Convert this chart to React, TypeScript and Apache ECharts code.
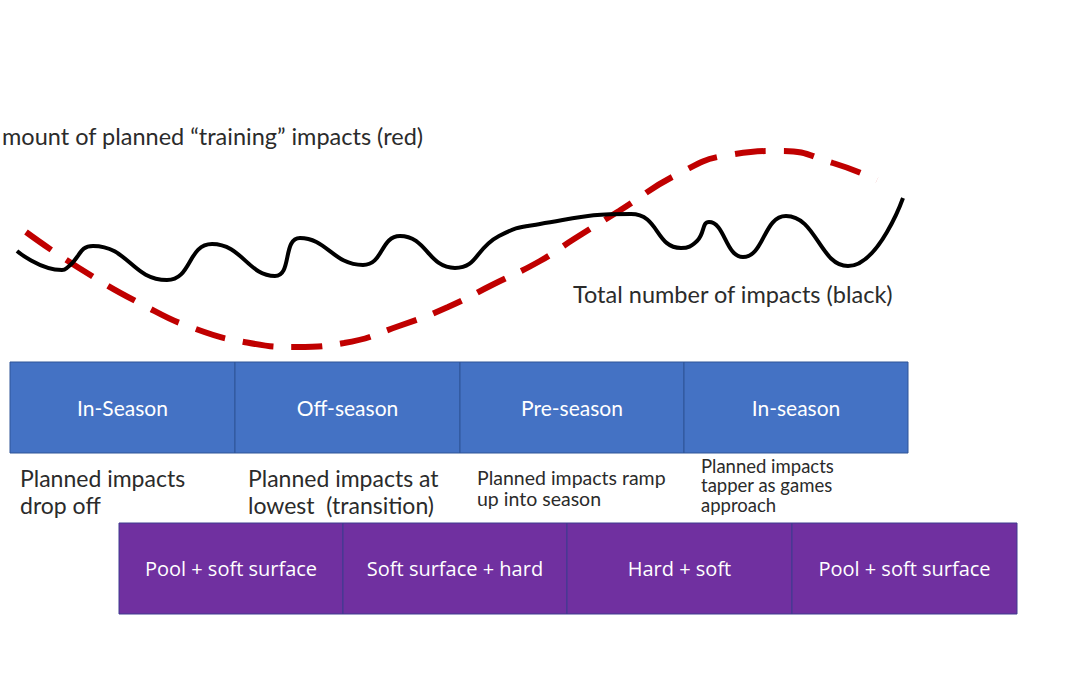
import React, { useEffect, useRef } from "react";
import * as echarts from "echarts";

// Timeline in weeks (x) and relative impact level (y)
const phaseNames = ["In-Season", "Off-season", "Pre-season", "In-season"];
const phaseBounds = [1.0, 23.5, 46.0, 68.4, 90.8];
const surfaceNames = ["Pool + soft surface", "Soft surface + hard", "Hard + soft", "Pool + soft surface"];
const surfaceBounds = [11.9, 34.3, 56.7, 79.2, 101.7];

const totalImpacts: [number, number][] = [
  [1.7, 42.4], [6.2, 40.5], [6.8, 40.8], [9.3, 42.9], [16.7, 39.5], [21.2, 43.1],
  [27.5, 39.9], [30.0, 43.7], [36.3, 41.0], [40.0, 43.9], [45.5, 40.7], [49.9, 43.9],
  [54.0, 45.1], [63.1, 46.1], [68.1, 42.7], [69.7, 43.4], [70.9, 45.3], [74.3, 41.8],
  [78.6, 45.9], [84.8, 40.9], [90.3, 47.7],
];

const plannedImpacts: [number, number][] = [
  [2.6, 44.3], [7.9, 40.7], [14.5, 36.9], [19.3, 34.7], [24.4, 33.3], [29.6, 32.8],
  [34.4, 33.2], [39.9, 34.9], [44.8, 36.8], [49.2, 39.0], [54.0, 41.4], [57.4, 43.6],
  [61.9, 46.4], [67.8, 50.1], [72.9, 52.0], [78.1, 52.4], [83.3, 51.2], [87.7, 49.5],
];

const phaseNotes = [
  "Planned impacts\ndrop off",
  "Planned impacts at\nlowest  (transition)",
  "Planned impacts ramp\nup into season",
  "Planned impacts\ntapper as games\napproach",
];

const redLabel = "mount of planned \u201ctraining\u201d impacts (red)";
const blackLabel = "Total number of impacts (black)";

const FONT = "Lato, 'Open Sans', sans-serif";
const CELL2_FONT = "'Liberation Sans Narrow', 'Open Sans', sans-serif";
const TEXT_COLOR = "#2b2b2b";

function cellSeries(
  names: string[],
  bounds: number[],
  yTop: number,
  yBottom: number,
  fill: string,
  stroke: string,
  fontSize: number,
  fontFamily: string
) {
  return {
    type: "custom",
    silent: true,
    data: names.map((_, i) => [bounds[i], bounds[i + 1], i]),
    encode: { x: [0, 1], y: 2 },
    renderItem: (params: any, api: any) => {
      const s = api.value(0);
      const e = api.value(1);
      const i = api.value(2);
      const p0 = api.coord([s, yTop]);
      const p1 = api.coord([e, yBottom]);
      return {
        type: "group",
        children: [
          {
            type: "rect",
            shape: { x: p0[0], y: p0[1], width: p1[0] - p0[0], height: p1[1] - p0[1] },
            style: { fill, stroke, lineWidth: 1 },
          },
          {
            type: "text",
            style: {
              text: names[i],
              x: (p0[0] + p1[0]) / 2,
              y: (p0[1] + p1[1]) / 2,
              align: "center",
              verticalAlign: "middle",
              fill: "#ffffff",
              fontSize,
              fontFamily,
            },
          },
        ],
      };
    },
  };
}

export default function App() {
  const ref = useRef<HTMLDivElement>(null);
  useEffect(() => {
    document.body.style.margin = "0";
    if (!ref.current) return;
    const chart = echarts.init(ref.current, undefined, { renderer: "svg" });
    chart.setOption({
      animation: false,
      backgroundColor: "#ffffff",
      grid: { left: 0, right: 0, top: 0, bottom: 0, containLabel: false },
      xAxis: { type: "value", min: 0, max: 108, show: false },
      yAxis: { type: "value", min: 0, max: 67.5, show: false },
      series: [
        {
          type: "line",
          name: "Total",
          data: totalImpacts,
          smooth: 0.5,
          showSymbol: false,
          silent: true,
          lineStyle: { color: "#000000", width: 4 },
          z: 3,
        },
        {
          type: "line",
          name: "Planned",
          data: plannedImpacts,
          smooth: 0.5,
          showSymbol: false,
          silent: true,
          lineStyle: { color: "#C00000", width: 6, type: [31, 18], cap: "butt" },
          z: 2,
        },
        cellSeries(phaseNames, phaseBounds, 31.3, 22.2, "#4472C4", "#2F5597", 21, FONT),
        cellSeries(surfaceNames, surfaceBounds, 15.2, 6.1, "#7030A0", "#3F3A8F", 20, CELL2_FONT),
      ],
      graphic: [
        { type: "text", left: 2, top: 122, style: { text: redLabel, fontSize: 23.5, lineHeight: 28, fill: TEXT_COLOR, fontFamily: FONT } },
        { type: "text", left: 573, top: 280, style: { text: blackLabel, fontSize: 23.5, lineHeight: 28, fill: TEXT_COLOR, fontFamily: FONT } },
        { type: "text", left: 20, top: 464, style: { text: phaseNotes[0], fontSize: 23, lineHeight: 27, fill: TEXT_COLOR, fontFamily: FONT } },
        { type: "text", left: 248, top: 464, style: { text: phaseNotes[1], fontSize: 23, lineHeight: 27, fill: TEXT_COLOR, fontFamily: FONT } },
        { type: "text", left: 477, top: 467, style: { text: phaseNotes[2], fontSize: 19.5, lineHeight: 21, fill: TEXT_COLOR, fontFamily: FONT } },
        { type: "text", left: 701, top: 456, style: { text: phaseNotes[3], fontSize: 18.5, lineHeight: 19.5, fill: TEXT_COLOR, fontFamily: FONT } },
      ],
    });
    return () => chart.dispose();
  }, []);
  return <div ref={ref} style={{ width: 1080, height: 675 }} />;
}
